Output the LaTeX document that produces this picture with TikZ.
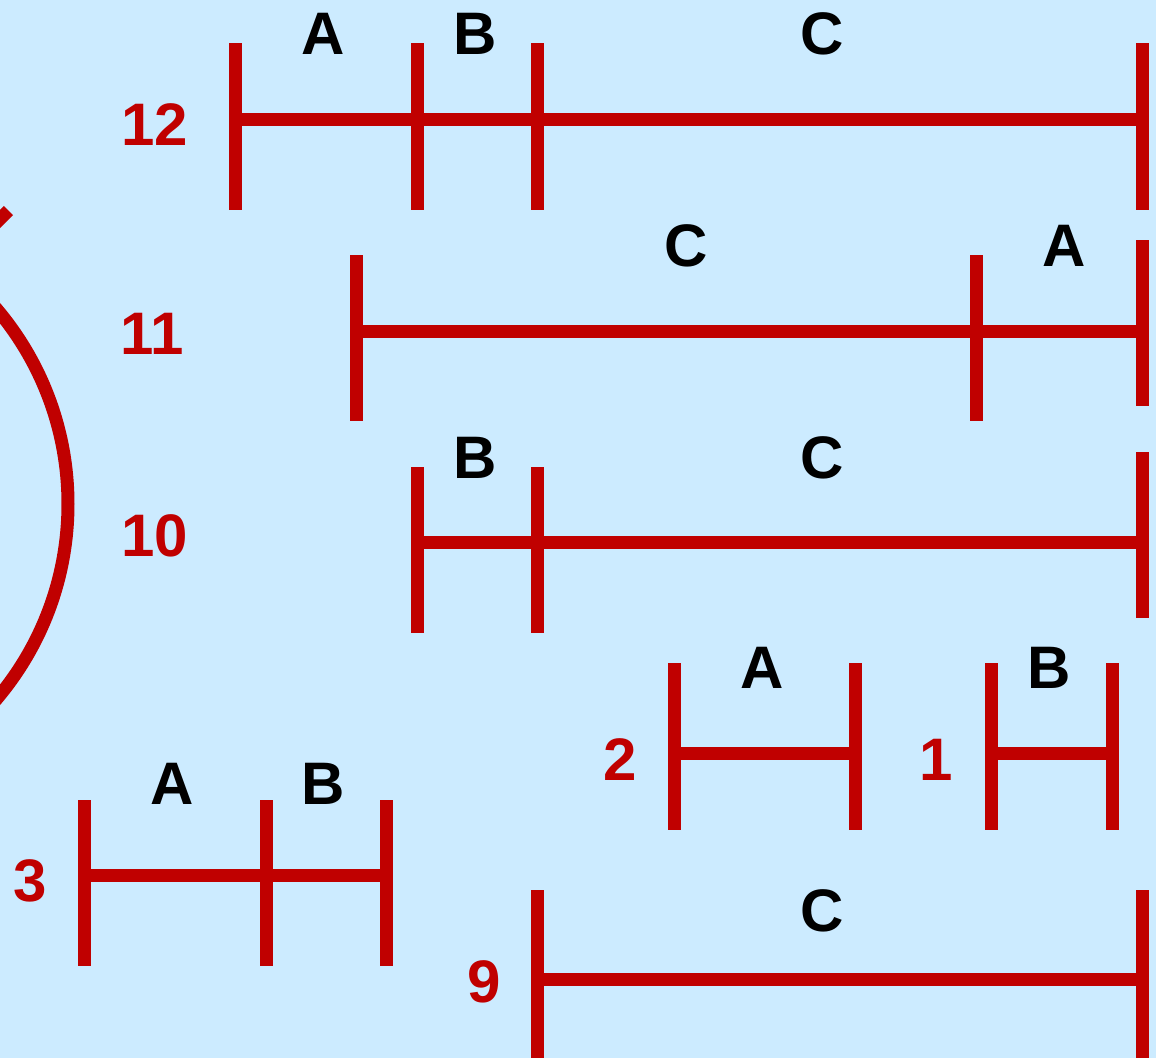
\documentclass[tikz,border=0pt]{standalone}
\usepackage{fontspec}
\setmainfont{Liberation Sans}
\definecolor{bgblue}{HTML}{CCEBFF}
\definecolor{barred}{HTML}{C00000}
\begin{document}
\begin{tikzpicture}[x=1pt,y=-1pt,
  bar/.style={draw=barred,line width=13pt},
  seg/.style={font=\fontsize{60}{60}\selectfont\bfseries,text=black,anchor=base,inner sep=0pt},
  num/.style={font=\fontsize{60}{60}\selectfont\bfseries,text=barred,anchor=base,inner sep=0pt}]
\fill[bgblue] (0,0) rectangle (1156,1058);
\useasboundingbox (0,0) rectangle (1156,1058);
\clip (0,0) rectangle (1156,1058);
% left arc and stub
\draw[bar] (-234,504) circle[radius=302];
\draw[bar] (-20,239) -- (8.5,210.5);
% row 12
\draw[bar] (235,119) -- (1142,119);
\draw[bar] (235,43) -- (235,210);
\draw[bar] (417,43) -- (417,210);
\draw[bar] (537,43) -- (537,210);
\draw[bar] (1142,43) -- (1142,210);
\node[num] (n12) at (155,145) {12};
\node[seg] (a12) at (323,54.5) {A};
\node[seg] (b12) at (475,54.5) {B};
\node[seg] (c12) at (822,54.5) {C};
% row 11
\draw[bar] (356,331) -- (1142,331);
\draw[bar] (356,255) -- (356,421);
\draw[bar] (976,255) -- (976,421);
\draw[bar] (1142,240) -- (1142,406);
\node[num] (n11) at (152,354.5) {11};
\node[seg] (c11) at (686,266) {C};
\node[seg] (a11) at (1064,266) {A};
% row 10
\draw[bar] (417,542) -- (1142,542);
\draw[bar] (417,467) -- (417,633);
\draw[bar] (537,467) -- (537,633);
\draw[bar] (1142,452) -- (1142,618);
\node[num] (n10) at (155,556.5) {10};
\node[seg] (b10) at (475,478.5) {B};
\node[seg] (c10) at (822,478.5) {C};
% row 2
\draw[bar] (674,753) -- (855,753);
\draw[bar] (674,663) -- (674,830);
\draw[bar] (855,663) -- (855,830);
\node[num] (n2) at (620,780.5) {2};
\node[seg] (a2) at (762,688.5) {A};
% row 1
\draw[bar] (991,753) -- (1112,753);
\draw[bar] (991,663) -- (991,830);
\draw[bar] (1112,663) -- (1112,830);
\node[num] (n1) at (936,780.5) {1};
\node[seg] (b1) at (1049,688.5) {B};
% row 3
\draw[bar] (84,875) -- (386,875);
\draw[bar] (84,800) -- (84,966);
\draw[bar] (266,800) -- (266,966);
\draw[bar] (386,800) -- (386,966);
\node[num] (n3) at (30,901.5) {3};
\node[seg] (a3) at (172,804.5) {A};
\node[seg] (b3) at (323,804.5) {B};
% row 9
\draw[bar] (537,979) -- (1142,979);
\draw[bar] (537,890) -- (537,1058);
\draw[bar] (1142,890) -- (1142,1058);
\node[num] (n9) at (484,1002.5) {9};
\node[seg] (c9) at (822,931.5) {C};
\end{tikzpicture}
\end{document}
